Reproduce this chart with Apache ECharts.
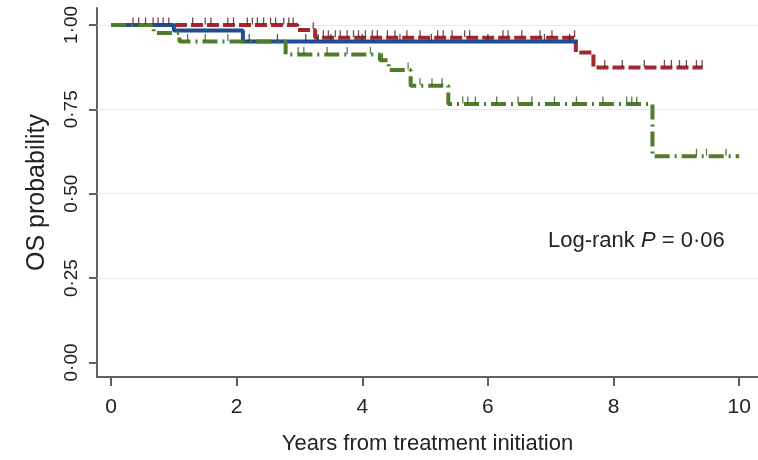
<!DOCTYPE html>
<html>
<head>
<meta charset="utf-8">
<script src="https://cdn.jsdelivr.net/npm/echarts@6/dist/echarts.min.js"></script>
<style>
  html, body { margin: 0; padding: 0; background: #fff; }
</style>
</head>
<body>
<div id="main" style="width: 758px;height:460px;"></div>
<script>
// step curves: time (years) and OS probability from that time on
var redTimes   = [0, 2.97, 3.25, 7.40, 7.68, 9.42];
var redSurv    = [1, 0.985, 0.962, 0.918, 0.874, 0.874];
var blueTimes  = [0, 1.00, 2.10, 7.43];
var blueSurv   = [1, 0.983, 0.951, 0.951];
var greenTimes = [0, 0.68, 1.09, 2.78, 4.28, 4.42, 4.77, 5.37, 8.62, 10.0];
var greenSurv  = [1, 0.976, 0.951, 0.912, 0.895, 0.866, 0.82, 0.766, 0.611, 0.611];

// censored observations
var redCensor = [0.35, 0.44, 0.55, 0.67, 0.75, 0.83, 0.92, 1.3, 1.5, 1.59, 1.86, 1.95, 2.17, 2.25,
  2.33, 2.43, 2.54, 2.62, 2.75, 2.83, 2.9, 3.22, 3.38, 3.46, 3.57, 3.65, 3.76, 3.86, 3.94, 4.05,
  4.16, 4.24, 4.4, 4.52, 4.71, 4.92, 5.2, 5.29, 5.43, 5.63, 5.71, 6.24, 6.32, 6.54, 6.83, 7.02,
  7.38, 7.86, 8.14, 8.49, 8.81, 8.92, 9.05, 9.16, 9.32, 9.41];
var blueCensor = [2.2, 2.65, 3.1, 3.3, 3.5, 4.0, 4.6, 5.1, 6.0, 6.9, 7.3];
var greenCensor = [1.22, 1.5, 1.86, 2.98, 3.07, 3.44, 3.76, 4.13, 4.32, 4.73, 4.92, 5.11, 5.27,
  5.6, 5.68, 5.8, 6.14, 6.48, 6.7, 7.06, 7.41, 7.83, 8.21, 8.29, 8.37, 9.32, 9.48, 9.79];

var xTicks = [0, 2, 4, 6, 8, 10];
var yTicks = [0, 0.25, 0.5, 0.75, 1];
var gridTicks = [0.25, 0.5, 0.75, 1];

var RED = '#a3282e', BLUE = '#1f4d8f', GREEN = '#4f7d2b';
var FONT = 'Liberation Sans';

function pairs(t, s) {
    return t.map(function (v, i) { return [v, s[i]]; });
}
function survAt(t, s, x) {
    var v = s[0];
    for (var i = 0; i < t.length; i++) { if (t[i] <= x) v = s[i]; }
    return v;
}
function censor(c, t, s) {
    return c.map(function (x) { return [x, survAt(t, s, x)]; });
}
function stepSeries(name, t, s, color, type) {
    return {
        name: name, type: 'line', step: 'end', data: pairs(t, s),
        showSymbol: false, symbol: 'none', animation: false, z: 3,
        lineStyle: { color: color, width: 4, type: type }
    };
}
function censorSeries(name, c, t, s, color) {
    return {
        name: name, type: 'scatter', data: censor(c, t, s), animation: false, z: 4,
        symbol: 'rect', symbolSize: [1.3, 7], symbolOffset: [0, -4],
        itemStyle: { color: color }
    };
}

var myChart = echarts.init(document.getElementById('main'));

var option = {
    backgroundColor: '#fff',
    grid: { left: 97, right: 0, top: 8, bottom: 78 },
    xAxis: {
        type: 'value', min: -0.223, max: 10.30,
        name: 'Years from treatment initiation', nameLocation: 'middle', nameGap: 56,
        nameTextStyle: { fontFamily: FONT, fontSize: 22, color: '#222' },
        axisLine: { show: true, onZero: false, lineStyle: { color: '#606060', width: 2 } },
        axisTick: { show: true, length: 9, customValues: xTicks, lineStyle: { color: '#606060', width: 2 } },
        axisLabel: { customValues: xTicks, margin: 20, fontFamily: FONT, fontSize: 21, color: '#222' },
        splitLine: { show: false }
    },
    yAxis: {
        type: 'value', min: -0.043, max: 1.05,
        name: 'OS probability', nameLocation: 'middle', nameGap: 47, nameRotate: 90,
        nameTextStyle: { fontFamily: FONT, fontSize: 25, color: '#222' },
        axisLine: { show: true, onZero: false, lineStyle: { color: '#606060', width: 2 } },
        axisTick: { show: true, length: 8, customValues: yTicks, lineStyle: { color: '#606060', width: 2 } },
        axisLabel: {
            customValues: yTicks, rotate: 90, margin: 16, fontFamily: FONT, fontSize: 19, color: '#222',
            formatter: function (v) { return v.toFixed(2).replace('.', '\u00b7'); }
        },
        splitLine: { show: false }
    },
    graphic: [{
        type: 'text', left: 548, top: 230, z: 10,
        style: {
            text: 'Log-rank {i|P} = 0\u00b706',
            font: '22px "Liberation Sans"', fill: '#222',
            rich: { i: { fontStyle: 'italic', fontSize: 22, fontFamily: FONT, fill: '#222' } }
        }
    }],
    series: [
        {
            type: 'line', data: [], silent: true, animation: false, z: 1,
            markLine: {
                silent: true, symbol: 'none', label: { show: false }, animation: false, z: 1,
                lineStyle: { color: '#e6edf0', width: 1.2, type: 'solid' },
                data: gridTicks.map(function (v) { return { yAxis: v }; })
            }
        },
        stepSeries('red', redTimes, redSurv, RED, [12, 4]),
        stepSeries('blue', blueTimes, blueSurv, BLUE, 'solid'),
        stepSeries('green', greenTimes, greenSurv, GREEN, [15, 5, 2, 5]),
        censorSeries('redC', redCensor, redTimes, redSurv, '#5a1a1e'),
        censorSeries('blueC', blueCensor, blueTimes, blueSurv, '#1a2a4a'),
        censorSeries('greenC', greenCensor, greenTimes, greenSurv, '#3a5a20')
    ]
};
myChart.setOption(option);
</script>
</body>
</html>
